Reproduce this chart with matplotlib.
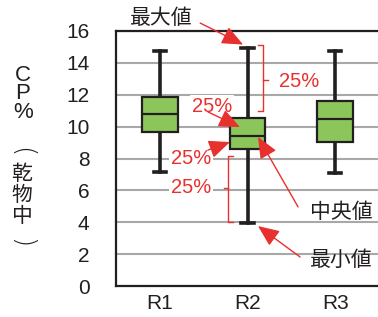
"""
Box plot of CP% (dry matter) for R1-R3 with explanatory annotations on R2.
"""

import matplotlib.pyplot as plt

plt.rcParams["font.family"] = ["Liberation Sans", "Noto Sans CJK JP", "DejaVu Sans"]

# Box plot statistics
groups = ["R1", "R2", "R3"]
whisker_low = [7.17, 3.95, 7.09]
q1 = [9.66, 8.59, 9.03]
median = [10.79, 9.41, 10.48]
q3 = [11.86, 10.54, 11.60]
whisker_high = [14.74, 14.93, 14.74]

y_ticks = [0, 2, 4, 6, 8, 10, 12, 14, 16]
ylabel_latin = "C\nP\n%"
ylabel_cjk = "乾\n物\n中"

RED = "#E8302E"
GREEN = "#8CC65A"
DARK = "#231F20"


def main():
    fig = plt.figure(figsize=(3.78, 3.17), dpi=100)
    ax = fig.add_axes([116 / 378, 31 / 317, 263 / 378, 255 / 317])

    stats = [
        dict(label=g, whislo=lo, q1=a, med=m, q3=b, whishi=hi)
        for g, lo, a, m, b, hi in zip(groups, whisker_low, q1, median, q3, whisker_high)
    ]
    ax.bxp(
        stats,
        positions=[1, 2, 3],
        widths=0.41,
        capwidths=0.14,
        showfliers=False,
        patch_artist=True,
        boxprops=dict(facecolor=GREEN, edgecolor=DARK, linewidth=1.6, zorder=3),
        medianprops=dict(color=DARK, linewidth=1.6, zorder=3.1),
        whiskerprops=dict(color=DARK, linewidth=2.6, zorder=2.9),
        capprops=dict(color=DARK, linewidth=2.6, zorder=2.9),
    )

    ax.set_xlim(0.5, 3.5)
    ax.set_ylim(0, 16)
    ax.set_yticks(y_ticks)
    ax.tick_params(axis="y", length=0, pad=19, labelsize=15, labelcolor=DARK)
    ax.tick_params(axis="x", length=0, pad=6, labelsize=15, labelcolor=DARK)
    ax.yaxis.grid(True, color="#A8A8A8", linewidth=1.5, zorder=0)
    ax.set_axisbelow(True)
    for side in ["left", "bottom", "top", "right"]:
        ax.spines[side].set_linewidth(1.6)
        ax.spines[side].set_color(DARK)

    # Stacked vertical y label: latin part, bracketed CJK part
    fig.text(23 / 378, 1 - 94 / 317, ylabel_latin, ha="center", va="center",
             fontsize=16, linespacing=0.86, color=DARK)
    fig.text(22 / 378, 1 - 195 / 317, ylabel_cjk, ha="center", va="center",
             fontsize=15, linespacing=0.95, color=DARK, family="Noto Sans CJK JP")
    fig.text(22 / 378, 1 - 152 / 317, "(", ha="center", va="center",
             fontsize=19, rotation=-90, color=DARK, family="DejaVu Sans",
             fontweight="light")
    fig.text(22 / 378, 1 - 243 / 317, ")", ha="center", va="center",
             fontsize=19, rotation=-90, color=DARK, family="DejaVu Sans",
             fontweight="light")

    # Annotation texts
    text_kw = dict(ha="center", va="center", zorder=2.5, annotation_clip=False)
    box_kw = dict(fc="white", ec="none", pad=1.5)
    ax.annotate("最大値", (1.02, 16.81), fontsize=15, color=DARK, **text_kw)
    ax.annotate("中央値", (3.07, 4.64), fontsize=15, color=DARK, **text_kw)
    ax.annotate("最小値", (3.07, 1.63), fontsize=15, color=DARK, **text_kw)
    for x, y in [(2.59, 12.86), (1.594, 11.29), (1.354, 8.03), (1.354, 6.15)]:
        ax.annotate("25%", (x, y), fontsize=14.5, color=RED, bbox=box_kw, **text_kw)

    # Arrows: (tail, tip)
    arrows = [
        ((1.46, 16.5), (1.95, 15.15)),
        ((1.55, 10.92), (1.914, 9.97)),
        ((1.55, 8.53), (1.80, 9.03)),
        ((2.577, 4.96), (2.12, 9.35)),
        ((2.60, 1.82), (2.12, 3.76)),
    ]
    for tail, tip in arrows:
        ax.annotate(
            "",
            xy=tip,
            xytext=tail,
            annotation_clip=False,
            zorder=5,
            arrowprops=dict(
                arrowstyle="-|>,head_length=0.65,head_width=0.28",
                mutation_scale=20,
                color=RED,
                lw=1,
                shrinkA=0,
                shrinkB=0,
            ),
        )

    # Brackets marking the 25% spans on R2
    ax.plot([2.12, 2.177, 2.177, 2.12], [15.12, 15.12, 10.98, 10.98], color=RED, lw=1, zorder=4)
    ax.plot([2.177, 2.234], [12.93, 12.93], color=RED, lw=1, zorder=4)
    ax.plot([1.834, 1.777, 1.777, 1.834], [8.16, 8.16, 4.01, 4.01], color=RED, lw=1, zorder=4)
    ax.plot([1.777, 1.731], [6.15, 6.15], color=RED, lw=1, zorder=4)

    fig.savefig("out.png", dpi=100)
    plt.close(fig)


if __name__ == "__main__":
    main()
